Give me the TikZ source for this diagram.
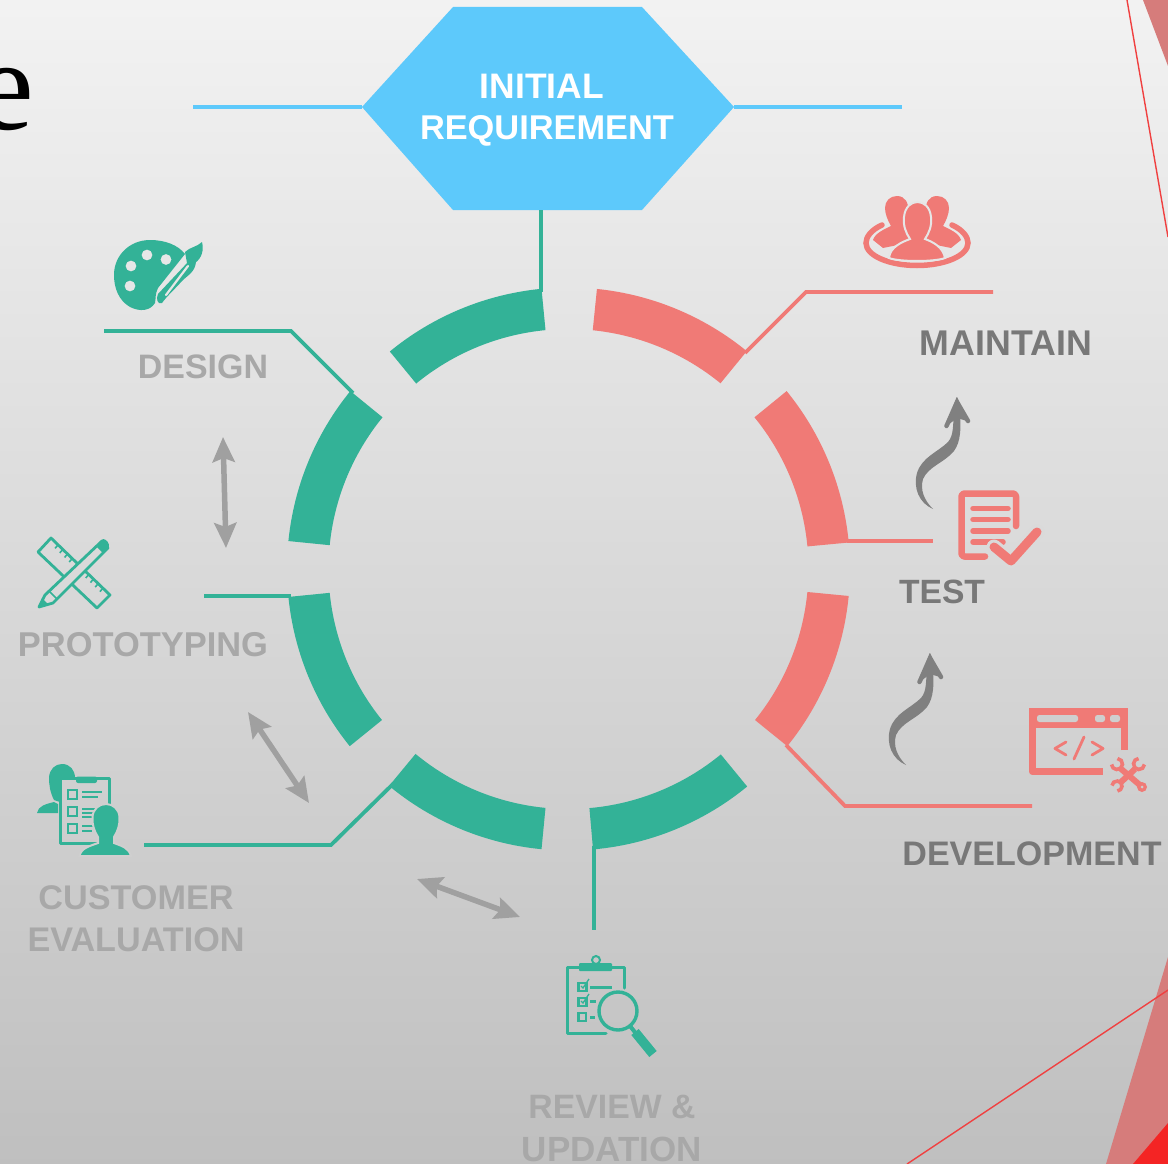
\documentclass[tikz,border=0pt]{standalone}
\usepackage{fontspec}
\usepackage{graphicx}
\setmainfont{Liberation Sans}
\newfontfamily\serifpart{Liberation Serif}
\usetikzlibrary{arrows.meta,calc}
\definecolor{tealc}{HTML}{33B297}
\definecolor{salmonc}{HTML}{F07A76}
\definecolor{hexc}{HTML}{5DC9FB}
\definecolor{lblLight}{HTML}{A8A8A8}
\definecolor{lblDark}{HTML}{787878}
\definecolor{arrowgrey}{HTML}{A0A0A0}
\definecolor{wiggle}{HTML}{808080}
\definecolor{redline}{HTML}{F04040}
\definecolor{pinkc}{HTML}{D67C7B}
\definecolor{redc}{HTML}{F42424}
\definecolor{bgA}{HTML}{E6E6E6}
\definecolor{bgB}{HTML}{DADADA}
\definecolor{bgC}{HTML}{CFCFCF}
\definecolor{bgD}{HTML}{C8C8C8}
\newcommand{\fitw}[2]{\resizebox{#1pt}{!}{\bfseries #2}}
\tikzset{
  x=1pt,y=-1pt,
  lbl/.style={inner sep=0pt,outer sep=0pt,anchor=center,text=lblLight},
  lbld/.style={lbl,text=lblDark},
  lead/.style={line width=3.8pt,line join=miter},
  dbl/.style={draw=arrowgrey,fill=arrowgrey,line width=5.5pt,{Stealth[length=25pt,width=22pt,inset=4pt]}-{Stealth[length=25pt,width=22pt,inset=4pt]}},
}
\newcommand{\seg}[3]{\fill[#1] (568.5,569) ++({cos(#2)*281.5},{-sin(#2)*281.5})
  arc[start angle=-#2,end angle=-#3,radius=281.5]
  -- ($(568.5,569)+({cos(#3)*240},{-sin(#3)*240})$)
  arc[start angle=-#3,end angle=-#2,radius=240] -- cycle;}
\begin{document}
\begin{tikzpicture}
\useasboundingbox (0,0) rectangle (1168,1164);
\shade[top color=black!5,bottom color=black!25,middle color=black!15] (0,0) rectangle (1168,1164);
% slide decoration
\fill[pinkc] (1143,0) -- (1168,66) -- (1168,0) -- cycle;
\fill[pinkc] (1106,1164) -- (1168,957) -- (1168,1164) -- cycle;
\fill[redc] (1133,1164) -- (1168,1123) -- (1168,1164) -- cycle;
\coordinate (ra) at (1127,0); \coordinate (rb) at (1168,237);
\coordinate (rc) at (907,1164); \coordinate (rd) at (1168,990);
\draw[redline,line width=1.4pt] (ra) -- (rb);
\draw[redline,line width=1.4pt] (rc) -- (rd);
\node[inner sep=0pt,anchor=base,text=black] (letter) at (5,129) {\serifpart\fontsize{130}{130}\selectfont e};
% hexagon
\coordinate (hexL) at (362,107); \coordinate (hexR) at (734,107);
\coordinate (hexB) at (541,210);
\fill[hexc] (453,7) -- (642,7) -- (hexR) -- (642,210) -- (453,210) -- (hexL) -- cycle;
\coordinate (hl) at (193,107); \coordinate (hr) at (902,107);
\draw[hexc,lead] (hl) -- (hexL);
\draw[hexc,lead] (hexR) -- (hr);
\node[lbl,text=white] (t1) at (542,86) {\fitw{124}{INITIAL}};
\node[lbl,text=white] (t2) at (547,131) {\fitw{254}{REQUIREMENT}};
% ring
\seg{tealc}{95.5}{129.4}
\seg{tealc}{140.8}{174.3}
\seg{tealc}{185.7}{219}
\seg{tealc}{230.4}{264.5}
\seg{tealc}{275}{309.4}
\seg{salmonc}{321}{354.5}
\seg{salmonc}{5.4}{39.2}
\seg{salmonc}{50.7}{84.2}
% leader lines
\coordinate (ringTop) at (541,292);
\draw[tealc,lead] (hexB) -- (ringTop);
\coordinate (da) at (104,331); \coordinate (db) at (291,331); \coordinate (dc) at (353,393);
\draw[tealc,lead] (da) -- (db) -- (dc);
\coordinate (pa) at (204,596); \coordinate (pb) at (291,596);
\draw[tealc,lead] (pa) -- (pb);
\coordinate (ca) at (144,845); \coordinate (cb) at (331,845); \coordinate (cc) at (393,784);
\draw[tealc,lead] (ca) -- (cb) -- (cc);
\coordinate (ra1) at (594,846); \coordinate (ra2) at (594,930);
\draw[tealc,lead] (ra1) -- (ra2);
\coordinate (ma) at (993,292); \coordinate (mb) at (806,292); \coordinate (mc) at (745,353);
\draw[salmonc,lead] (ma) -- (mb) -- (mc);
\coordinate (ta) at (847,541); \coordinate (tb) at (933,541);
\draw[salmonc,lead] (ta) -- (tb);
\coordinate (va) at (786,745); \coordinate (vb) at (845,806); \coordinate (vc) at (1032,806);
\draw[salmonc,lead] (va) -- (vb) -- (vc);
% labels
\node[lbl] (design) at (203,367) {\fitw{130}{DESIGN}};
\node[lbl] (proto) at (143,645) {\fitw{250}{PROTOTYPING}};
\node[lbl] (cust) at (136,898) {\fitw{195}{CUSTOMER}};
\node[lbl] (eval) at (136,940) {\fitw{217}{EVALUATION}};
\node[lbl] (rev) at (612,1107) {\fitw{167}{REVIEW \&}};
\node[lbl] (upd) at (612,1149) {\fitw{180}{UPDATION}};
\node[lbld] (maintain) at (1006,343) {\fitw{172}{MAINTAIN}};
\node[lbld] (test) at (942,592) {\fitw{86}{TEST}};
\node[lbld] (dev) at (1032,854) {\fitw{259}{DEVELOPMENT}};
% grey double arrows
\coordinate (a1) at (223,437); \coordinate (a2) at (226,548);
\coordinate (b1) at (248,712); \coordinate (b2) at (309,803);
\coordinate (c1) at (417,879); \coordinate (c2) at (520,917);
\draw[dbl] (a1) -- (a2);
\draw[dbl] (b1) -- (b2);
\draw[dbl] (c1) -- (c2);
% wiggly arrows
\foreach \dx/\dy in {0/0,-27/256}{
\begin{scope}[shift={(\dx,\dy)}]
\fill[wiggle] (933,509) .. controls (919,503) and (913,488) .. (917,473)
 .. controls (922,457) and (938,452) .. (948,442)
 .. controls (954,435) and (953,425) .. (954,405) -- (960,405)
 .. controls (961,430) and (961,441) .. (954,451)
 .. controls (944,463) and (929,466) .. (923,479)
 .. controls (920,490) and (924,500) .. (933,509) -- cycle;
\draw[wiggle,line width=4.5pt,line join=miter,line cap=round] (946.5,426) -- (957,402) -- (968,421);
\fill[wiggle] (957,397) -- (948,425) -- (957,418) -- (967,421) -- cycle;
\end{scope}}
% palette icon
\fill[tealc,even odd rule] (150,240) .. controls (165,240) and (178,245) .. (185,254)
 -- (158,288) .. controls (155,294) and (156,298) .. (155,303)
 .. controls (150,311) and (140,312) .. (130,307)
 .. controls (118,300) and (114,287) .. (114,275)
 .. controls (114,255) and (130,240) .. (150,240) -- cycle
 (147,255) circle[radius=5.5] (166,259.5) circle[radius=5.5] (131,266) circle[radius=5.5] (130,286) circle[radius=5.5];
\fill[tealc] (185,252) .. controls (190,247) and (197,247) .. (202,242)
 .. controls (204,250) and (202,258) .. (195,263) -- (187,263) -- cycle;
\fill[tealc] (188,262) -- (196,262) .. controls (195,272) and (188,275) .. (182,281)
 .. controls (175,289) and (167,296) .. (162,303) .. controls (157,305) and (156,298) .. (158,294) -- cycle;
\draw[bgA,line width=2.2pt,line cap=round] (188,266) -- (166,295);
% ruler and pencil
\draw[tealc,line width=2.8pt,line join=round] (51,538) -- (38,552) -- (97,608) -- (110,595) -- cycle;
\foreach \t in {0.12,0.2,0.28,0.36,0.64,0.72,0.8,0.88}{
 \draw[tealc,line width=1.6pt] ($(51,538)!\t!(110,595)$) -- ++(-3,3.5);}
\filldraw[draw=tealc,fill=bgB,line width=2.8pt,line join=round] (102,541) -- (108,548) -- (53,603) -- (39,607) -- (45,595) -- cycle;
\draw[tealc,line width=1.6pt] (49,591) -- (57,599);
\fill[tealc] (96,546) -- (103,539) .. controls (106,539) and (110,543) .. (109,548) -- (103,553) -- cycle;
\fill[tealc] (39,607) -- (42,598) -- (48,604) -- cycle;
% customer icon
\fill[tealc] (62,764) .. controls (70,764) and (75,770) .. (75,778) -- (60,778) -- (60,802) -- (54,800)
 .. controls (50,792) and (49,785) .. (49,777) .. controls (50,769) and (55,764) .. (62,764) -- cycle;
\fill[tealc] (37,813) .. controls (38,806) and (46,804) .. (54,802) -- (58,804) -- (58,813) -- cycle;
\draw[tealc,line width=3pt,line join=round] (60.5,778) rectangle (109.5,843);
\fill[tealc,rounded corners=2pt] (76,776.5) rectangle (97,783);
\foreach \yy in {790,807,824}{\draw[tealc,line width=2.8pt] (68,\yy) rectangle (77,\yy+9);}
\foreach \xa/\xb/\yy in {82/102/792,82/98/797,82/100/809,82/96/813,82/94/817,82/93/826,82/92/831}{\draw[tealc,line width=1.6pt] (\xa,\yy) -- (\xb,\yy);}
\filldraw[draw=bgC,fill=tealc,line width=2pt] (79.5,856) .. controls (81,848) and (90,846) .. (98,843) -- (98,837)
 .. controls (94,831) and (92,824) .. (92.5,817) .. controls (93,809) and (99,804) .. (106,804)
 .. controls (113,804) and (119,809) .. (119.5,817) .. controls (120,824) and (118,831) .. (114,837)
 -- (114,843) .. controls (122,846) and (129,848) .. (131,856) -- cycle;
% review icon
\draw[tealc,line width=3pt,line join=round,line cap=round] (624,988) -- (624,967) -- (567.5,967) -- (567.5,1033) -- (606,1033);
\fill[tealc,rounded corners=1pt] (579,963) rectangle (612,971);
\draw[tealc,line width=2pt] (596,960) circle[radius=4];
\foreach \yy in {983,998}{
 \draw[tealc,line width=2.4pt] (578.5,\yy) rectangle (586.5,\yy+8);
 \draw[tealc,line width=1.3pt] (581,\yy+3) -- (583,\yy+5) -- (589,\yy-4);}
\draw[tealc,line width=2.4pt] (578.5,1013) rectangle (586,1021);
\draw[tealc,line width=3pt] (590,987) -- (612,987);
\draw[tealc,line width=3pt] (590,1001) -- (596,1001);
\draw[tealc,line width=3pt] (590,1017) -- (595,1017);
\draw[tealc,line width=3.4pt] (618,1011) circle[radius=19];
\draw[tealc,line width=4pt] (630,1026) -- (638,1036);
\draw[tealc,line width=9.5pt] (635,1032) -- (653,1054);
% people icon
\draw[salmonc,line width=5.5pt,line cap=round] (882,225) .. controls (871,230) and (866,237) .. (866,243)
 .. controls (866,256) and (890,265.5) .. (917,265.5)
 .. controls (944,265.5) and (968,256) .. (968,243)
 .. controls (968,237) and (963,230) .. (952,225);
\fill[salmonc] (897,196) .. controls (905,196) and (909,203) .. (908,211) .. controls (907,216) and (905,220) .. (903,224)
 -- (922,240) -- (883,248) -- (873,240) .. controls (875,233) and (885,229) .. (891,226)
 .. controls (888,221) and (885,214) .. (885,208) .. controls (885,201) and (890,196) .. (897,196) -- cycle;
\fill[salmonc] (937,196) .. controls (929,196) and (925,203) .. (926,211) .. controls (927,216) and (929,220) .. (931,224)
 -- (912,240) -- (951,248) -- (961,240) .. controls (959,233) and (949,229) .. (943,226)
 .. controls (946,221) and (949,214) .. (949,208) .. controls (949,201) and (944,196) .. (937,196) -- cycle;
\filldraw[draw=bgA,fill=salmonc,line width=2pt] (889,258) .. controls (890,247) and (902,242) .. (910,239)
 .. controls (906,233) and (903,226) .. (904,217) .. controls (905,207) and (911,202) .. (917.5,202)
 .. controls (924,202) and (930,207) .. (931,217) .. controls (932,226) and (929,233) .. (925,239)
 .. controls (933,242) and (943,247) .. (945,258) .. controls (935,262) and (899,262) .. (889,258) -- cycle;
% test icon
\draw[salmonc,line width=6.5pt,line join=round,line cap=round,rounded corners=3pt] (1016,526) -- (1016,493.5) -- (961.5,493.5) -- (961.5,556.5) -- (985,556.5);
\foreach \xb/\yy in {1008/508.5,1008/519.5,1008/531,1003/542}{
 \draw[salmonc,line width=5.5pt,line cap=round] (973,\yy) -- (\xb,\yy);}
\draw[bgB,line width=15pt,line cap=round,line join=round] (994,547) -- (1011,561) -- (1037,532);
\draw[salmonc,line width=9pt,line cap=round,line join=round] (994,547) -- (1011,561) -- (1037,532);
% development icon
\draw[salmonc,line width=7.5pt,line join=round] (1124.5,750) -- (1124.5,711.5) -- (1032.5,711.5) -- (1032.5,771.5) -- (1103,771.5);
\fill[salmonc] (1029,708) rectangle (1128,728);
\fill[bgC,rounded corners=2.5pt] (1037,715) rectangle (1078,722);
\fill[bgC,rounded corners=2.5pt] (1095,715) rectangle (1105,722);
\fill[bgC,rounded corners=2.5pt] (1110,715) rectangle (1120,722);
\draw[salmonc,line width=2.8pt,line cap=round,line join=round] (1066,742) -- (1055,748.5) -- (1066,755);
\draw[salmonc,line width=2.8pt,line cap=round] (1084,737) -- (1074,759);
\draw[salmonc,line width=2.8pt,line cap=round,line join=round] (1092,742) -- (1103,748.5) -- (1092,755);
% spanner pair
\draw[salmonc,line width=6pt] (1120,768) -- (1141,786);
\draw[salmonc,line width=6pt] (1135,769) -- (1120,783);
\draw[salmonc,line width=3.6pt] (1117,764) ++(275:5.5) arc[start angle=275,end angle=535,radius=5.5];
\draw[salmonc,line width=3.6pt] (1139,764) ++(5:5.5) arc[start angle=5,end angle=265,radius=5.5];
\draw[salmonc,line width=3.6pt] (1117,786) ++(185:5) arc[start angle=185,end angle=445,radius=5];
\fill[salmonc] (1142,787) circle[radius=5];
\fill[bgC] (1142,787) circle[radius=1.5];
\end{tikzpicture}
\end{document}
